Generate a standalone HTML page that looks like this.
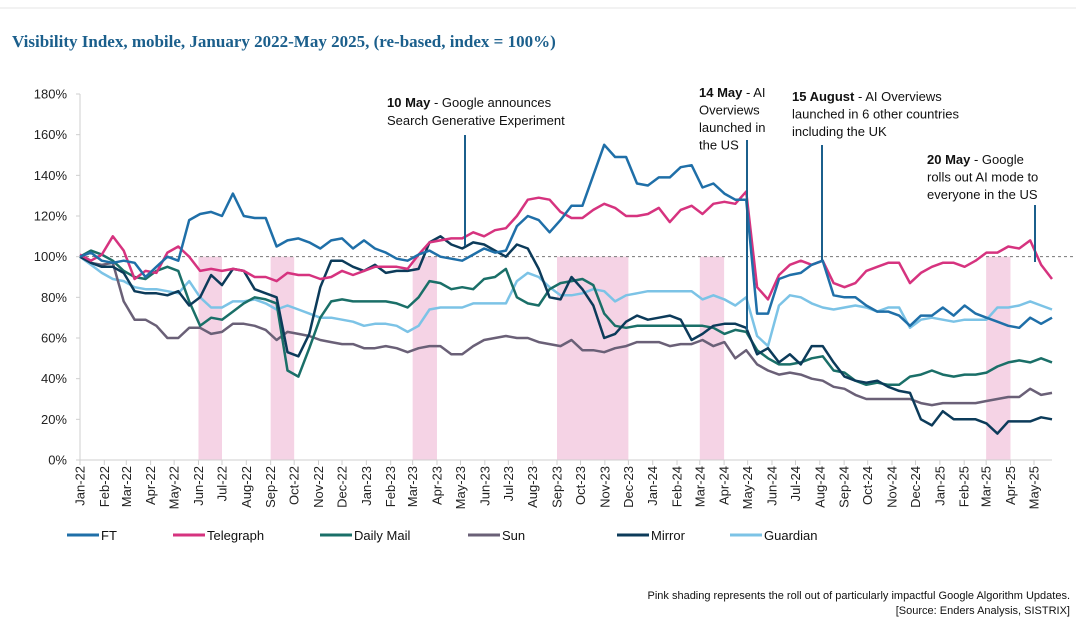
<!DOCTYPE html>
<html><head><meta charset="utf-8">
<style>
body{margin:0;background:#fff;width:1076px;height:620px;overflow:hidden;font-family:"Liberation Sans",sans-serif;}
svg{display:block}
</style></head>
<body>
<svg id="chart" width="1076" height="620" xmlns="http://www.w3.org/2000/svg">
<line x1="0" y1="8" x2="1076" y2="8" stroke="#e6e6e6" stroke-width="1"/>
<text x="12" y="47" font-family="Liberation Serif, serif" font-weight="bold" font-size="17" fill="#1b5f8c">Visibility Index, mobile, January 2022-May 2025, (re-based, index = 100%)</text>
<g id="bands"></g>
<g id="axes"></g>
<g id="series"></g>
<g id="annotations" font-size="13" fill="#111">
<line x1="465" y1="135" x2="465" y2="246" stroke="#1b5f8c" stroke-width="2"/>
<text x="387" y="107"><tspan font-weight="bold">10 May</tspan> - Google announces<tspan x="387" dy="18">Search Generative Experiment</tspan></text>
<line x1="747" y1="140" x2="747" y2="330" stroke="#1b5f8c" stroke-width="2"/>
<text x="699" y="97"><tspan font-weight="bold">14 May</tspan> - AI<tspan x="699" dy="17.5">Overviews</tspan><tspan x="699" dy="17.5">launched in</tspan><tspan x="699" dy="17.5">the US</tspan></text>
<line x1="822" y1="145" x2="822" y2="260" stroke="#1b5f8c" stroke-width="2"/>
<text x="792" y="101"><tspan font-weight="bold">15 August</tspan> - AI Overviews<tspan x="792" dy="17.5">launched in 6 other countries</tspan><tspan x="792" dy="17.5">including the UK</tspan></text>
<line x1="1035" y1="205" x2="1035" y2="262" stroke="#1b5f8c" stroke-width="2"/>
<text x="927" y="164"><tspan font-weight="bold">20 May</tspan> - Google<tspan x="927" dy="17.5">rolls out AI mode to</tspan><tspan x="927" dy="17.5">everyone in the US</tspan></text>
</g>
<g id="legend" font-size="13" fill="#111"></g>
<text x="1070" y="599" text-anchor="end" font-size="11" fill="#111">Pink shading represents the roll out of particularly impactful Google Algorithm Updates.</text>
<text x="1070" y="614" text-anchor="end" font-size="11" fill="#111">[Source: Enders Analysis, SISTRIX]</text>
</svg>
<script>
const yTicks=[0,20,40,60,80,100,120,140,160,180];
const monthLabels=["Jan-22","Feb-22","Mar-22","Apr-22","May-22","Jun-22","Jul-22","Aug-22","Sep-22","Oct-22","Nov-22","Dec-22","Jan-23","Feb-23","Mar-23","Apr-23","May-23","Jun-23","Jul-23","Aug-23","Sep-23","Oct-23","Nov-23","Dec-23","Jan-24","Feb-24","Mar-24","Apr-24","May-24","Jun-24","Jul-24","Aug-24","Sep-24","Oct-24","Nov-24","Dec-24","Jan-25","Feb-25","Mar-25","Apr-25","May-25"];
const bandStarts=["2022-06-01","2022-09-01","2023-03-01","2023-09-01","2024-03-01","2025-03-01"];
const bandEnds=["2022-07-01","2022-10-01","2023-04-01","2023-12-01","2024-04-01","2025-04-01"];
const seriesNames=["FT","Telegraph","Daily Mail","Sun","Mirror","Guardian"];
const ft=[100,102,98,97,98,97,90,95,100,98,118,121,122,120,131,120,119,119,105,108,109,107,104,108,109,104,108,104,102,99,98,101,103,100,99,98,101,104,102,103,115,120,118,112,118,125,125,140,155,149,149,136,135,139,139,144,145,134,136,131,128,128,72,72,89,91,92,96,98,81,80,80,76,73,73,71,66,71,71,75,71,76,72,70,68,66,65,70,67,70];
const telegraph=[101,98,101,110,103,89,93,92,102,105,100,93,94,93,94,93,90,90,88,92,91,91,89,90,93,91,93,95,95,95,94,101,107,108,109,109,112,110,113,114,120,128,129,128,122,119,119,123,126,124,120,120,121,124,117,123,125,121,126,127,126,132,85,79,91,96,98,96,98,87,85,87,93,95,97,97,87,92,95,97,97,95,98,102,102,105,104,108,96,89];
const dailyMail=[100,103,101,98,93,90,89,93,95,93,78,66,70,69,73,77,80,79,77,44,41,55,70,78,79,78,78,78,78,77,75,80,88,87,84,85,84,89,90,94,80,77,76,84,87,88,89,86,72,66,65,66,66,66,66,66,66,66,65,62,64,63,54,50,47,47,48,50,51,44,43,39,37,38,37,37,41,42,44,42,41,42,42,43,46,48,49,48,50,48];
const sun=[100,97,96,97,78,69,69,66,60,60,65,65,62,63,67,67,66,64,59,63,62,61,59,58,57,57,55,55,56,55,53,55,56,56,52,52,56,59,60,61,60,60,58,57,56,59,54,54,53,55,56,58,58,58,56,57,57,59,56,58,50,54,47,44,42,43,42,40,39,36,35,32,30,30,30,30,30,28,27,28,28,28,28,29,30,31,31,35,32,33];
const mirror=[100,97,95,95,92,83,82,82,81,83,76,80,91,86,94,93,84,82,80,53,51,62,85,98,98,95,93,96,92,93,93,94,107,110,106,104,107,106,103,100,106,104,94,80,79,90,84,76,60,62,68,71,69,70,71,69,59,62,66,67,67,65,52,55,48,52,47,56,56,48,41,39,38,39,36,34,33,20,17,24,20,20,20,18,13,19,19,19,21,20];
const guardian=[100,96,92,89,88,85,84,84,83,82,88,80,75,75,78,78,79,77,74,76,74,72,70,70,69,68,66,67,67,66,63,66,74,75,75,75,77,77,77,77,88,92,90,85,81,81,82,84,83,78,81,82,83,83,83,83,83,79,81,79,76,80,61,56,76,81,80,77,75,74,75,76,75,73,75,75,65,69,70,69,68,69,69,69,75,75,76,78,76,74];
const colors=["#1f6fa8","#d6337f","#1a6f68","#6a6077","#0c3b5a","#7cc3e6"];
const allSeries=[ft,telegraph,dailyMail,sun,mirror,guardian];

const NS="http://www.w3.org/2000/svg";
const X0=80,X1=1052,Y0=460,Ypx=2.0333;
const start=Date.UTC(2022,0,1),DAY=86400000,PXDAY=(1034-80)/1216;
function yS(v){return Y0-v*Ypx;}
function xI(i,n){return X0+i*(X1-X0)/(n-1);}
function xD(s){const p=s.split("-");return X0+((Date.UTC(+p[0],+p[1]-1,+p[2])-start)/DAY)*PXDAY;}
function mk(tag,attrs,parent){const e=document.createElementNS(NS,tag);for(const k in attrs)e.setAttribute(k,attrs[k]);parent.appendChild(e);return e;}

const bands=document.getElementById("bands");
for(let i=0;i<bandStarts.length;i++){
  const a=xD(bandStarts[i]),b=xD(bandEnds[i]);
  const r=mk("rect",{x:a,y:yS(100),width:b-a,height:yS(0)-yS(100),fill:"#f5d3e5"},bands);
  
  
}
const axes=document.getElementById("axes");
const ya=mk("line",{x1:X0,y1:yS(180),x2:X0,y2:Y0,stroke:"#cfcfcf"},axes);


const xa=mk("line",{x1:X0,y1:Y0,x2:X1,y2:Y0,stroke:"#cfcfcf"},axes);


yTicks.forEach(v=>{
  const t=mk("text",{x:67,y:yS(v)+4.5,"text-anchor":"end","font-size":"13",fill:"#222"},axes);
  t.textContent=v+"%";
  
  
  const tk=mk("line",{x1:X0-4,y1:yS(v),x2:X0,y2:yS(v),stroke:"#cfcfcf"},axes);
  
  
});
monthLabels.forEach((m,i)=>{
  const d=(2022+Math.floor(i/12))+"-"+String(i%12+1).padStart(2,"0")+"-01";
  const x=xD(d);
  const tk=mk("line",{x1:x,y1:Y0,x2:x,y2:Y0+5,stroke:"#cfcfcf"},axes);
  
  
  const t=mk("text",{x:0,y:0,"text-anchor":"end","font-size":"13",fill:"#222",transform:"translate("+(x+4.5)+","+(Y0+6)+") rotate(-90)"},axes);
  t.textContent=m;
  
  
});
const ref=mk("line",{x1:X0,y1:yS(100),x2:1076,y2:yS(100),stroke:"#777","stroke-dasharray":"3,3","stroke-width":"1"},axes);



const sg=document.getElementById("series");
const order=[5,3,2,4,1,0];
order.forEach(si=>{
  const vals=allSeries[si];
  const pts=vals.map((v,i)=>xI(i,vals.length).toFixed(1)+","+yS(v).toFixed(1)).join(" ");
  const p=mk("polyline",{points:pts,fill:"none",stroke:colors[si],"stroke-width":"2.5","stroke-linejoin":"round"},sg);
  
  
});
const lg=document.getElementById("legend");
const lgX=[67,173,320,468,617,730];
seriesNames.forEach((n,i)=>{
  const l=mk("line",{x1:lgX[i],y1:535,x2:lgX[i]+32,y2:535,stroke:colors[i],"stroke-width":"3"},lg);
  
  
  const t=mk("text",{x:lgX[i]+34,y:540},lg);
  t.textContent=n;
  
  
});
</script>
</body></html>
